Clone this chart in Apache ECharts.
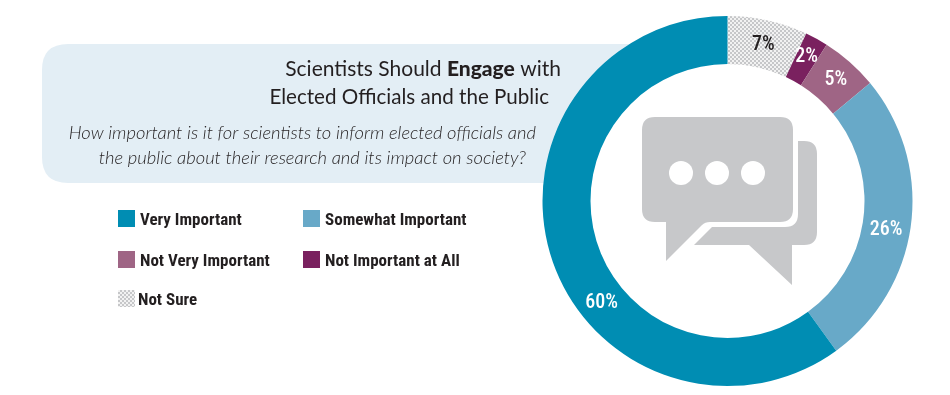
<!DOCTYPE html>
<html>
<head>
<meta charset="utf-8">
<style>
  html, body { margin: 0; padding: 0; background: #fff; }
  #chart { width: 950px; height: 395px; }
</style>
<script src="https://cdn.jsdelivr.net/npm/echarts@6/dist/echarts.min.js"></script>
</head>
<body>
<div id="chart"></div>
<script>
// clockwise from 12 o'clock, as in the reference
const categories = ['Not Sure', 'Not Important at All', 'Not Very Important', 'Somewhat Important', 'Very Important']
const shares = [7, 2, 5, 26, 60]
const sliceColors = ['#d3d4d6', '#7a215f', '#9f6585', '#68a9c8', '#008db3']
const labelColors = ['#231f20', '#ffffff', '#ffffff', '#ffffff', '#ffffff']
// the reference does not centre its labels in the slices
const labelOffsets = [[0, 4], [0, 0], [0, 2], [-4, 8], [30, 51]]

const titleFont = 'Lato, "Open Sans", sans-serif'
const narrowFont = '"Roboto Condensed", Roboto, sans-serif'

// grey slice has a fine white dot screen on it
function dotPattern() {
  const c = document.createElement('canvas')
  c.width = 4
  c.height = 4
  const ctx = c.getContext('2d')
  ctx.fillStyle = '#c6c7c9'
  ctx.fillRect(0, 0, 4, 4)
  ctx.fillStyle = '#f2f2f2'
  ctx.fillRect(0, 0, 2, 2)
  ctx.fillRect(2, 2, 2, 2)
  return c
}
const dots = { image: dotPattern(), repeat: 'repeat' }

// graphic has no plain path type, so the odd shapes get registered
function registerOutline(name, pathData) {
  echarts.graphic.registerShape(name, echarts.graphic.extendPath(pathData, {}))
}
// right edge is slanted so it hides under the ring and never shows in the hole
registerOutline('panelShape', 'M68 44 H640 L580 183 H68 Q42 183 42 157 V70 Q42 44 68 44 Z')
registerOutline('bubbleFront', 'M13 0 H138 Q151 0 151 13 V92 Q151 105 138 105 H68 Q63 105 60 108 L24 144 V105 H13 Q0 105 0 92 V13 Q0 0 13 0 Z')
registerOutline('bubbleBack', 'M156 24 H162 Q175 24 175 37 V115 Q175 128 162 128 H150 V168 L107 128 H52 L70 110 H143 Q156 110 156 97 Z')

const chart = echarts.init(document.getElementById('chart'), null, { renderer: 'canvas' })

function legendAt(left, top, name, textPad) {
  return {
    left,
    top,
    orient: 'horizontal',
    padding: 0,
    itemWidth: 17,
    itemHeight: 17,
    itemGap: 0,
    icon: 'rect',
    selectedMode: false,
    data: [name],
    formatter: '{t|{name}}',
    textStyle: {
      rich: {
        t: {
          color: '#231f20',
          fontFamily: narrowFont,
          fontWeight: 'bold',
          fontSize: 17,
          padding: [5, 0, 0, textPad || 0]
        }
      }
    }
  }
}

chart.setOption({
  animation: false,
  backgroundColor: '#ffffff',
  legend: [
    legendAt(118, 210, 'Very Important'),
    legendAt(303, 210, 'Somewhat Important'),
    legendAt(118, 251, 'Not Very Important'),
    legendAt(303, 251, 'Not Important at All'),
    legendAt(118, 290, 'Not Sure', -2)
  ],
  graphic: [
    {
      type: 'panelShape',
      z: -1,
      style: { fill: '#e3eef5' }
    },
    {
      type: 'text',
      z: 5,
      style: {
        x: 561,
        y: 69,
        align: 'right',
        verticalAlign: 'middle',
        rich: {
          n: { fontFamily: titleFont, fontSize: 21, fill: '#231f20' },
          b: { fontFamily: titleFont, fontSize: 21, fontWeight: 900, fill: '#231f20' }
        },
        text: '{n|Scientists Should }{b|Engage}{n| with}'
      }
    },
    {
      type: 'text',
      z: 5,
      style: {
        x: 549,
        y: 97,
        align: 'right',
        verticalAlign: 'middle',
        fontFamily: titleFont,
        fontSize: 20.6,
        fill: '#231f20',
        text: 'Elected Officials and the Public'
      }
    },
    {
      type: 'text',
      z: 5,
      style: {
        x: 536,
        y: 133,
        align: 'right',
        verticalAlign: 'middle',
        fontFamily: titleFont,
        fontStyle: 'italic',
        fontWeight: 300,
        fontSize: 18.4,
        fill: '#231f20',
        text: 'How important is it for scientists to inform elected officials and'
      }
    },
    {
      type: 'text',
      z: 5,
      style: {
        x: 526,
        y: 158,
        align: 'right',
        verticalAlign: 'middle',
        fontFamily: titleFont,
        fontStyle: 'italic',
        fontWeight: 300,
        fontSize: 18.4,
        fill: '#231f20',
        text: 'the public about their research and its impact on society?'
      }
    },
    // chat icon
    {
      type: 'group',
      x: 642,
      y: 117,
      z: 4,
      children: [
        { type: 'bubbleBack', style: { fill: '#c7c8ca' } },
        { type: 'bubbleFront', style: { fill: '#c7c8ca' } },
        { type: 'circle', shape: { cx: 39, cy: 56, r: 12 }, style: { fill: '#ffffff' } },
        { type: 'circle', shape: { cx: 75, cy: 56, r: 12 }, style: { fill: '#ffffff' } },
        { type: 'circle', shape: { cx: 111, cy: 56, r: 12 }, style: { fill: '#ffffff' } }
      ]
    }
  ],
  series: [
    {
      type: 'pie',
      center: [727.5, 201],
      radius: [137, 185],
      startAngle: 90,
      clockwise: true,
      silent: true,
      z: 3,
      data: categories.map((name, i) => ({
        name,
        value: shares[i],
        itemStyle: { color: i === 0 ? dots : sliceColors[i] },
        label: { color: labelColors[i], offset: labelOffsets[i] }
      })),
      label: {
        position: 'inside',
        formatter: '{c}%',
        fontFamily: narrowFont,
        fontWeight: 500,
        fontSize: 20
      },
      labelLine: { show: false }
    }
  ]
})
</script>
</body>
</html>
